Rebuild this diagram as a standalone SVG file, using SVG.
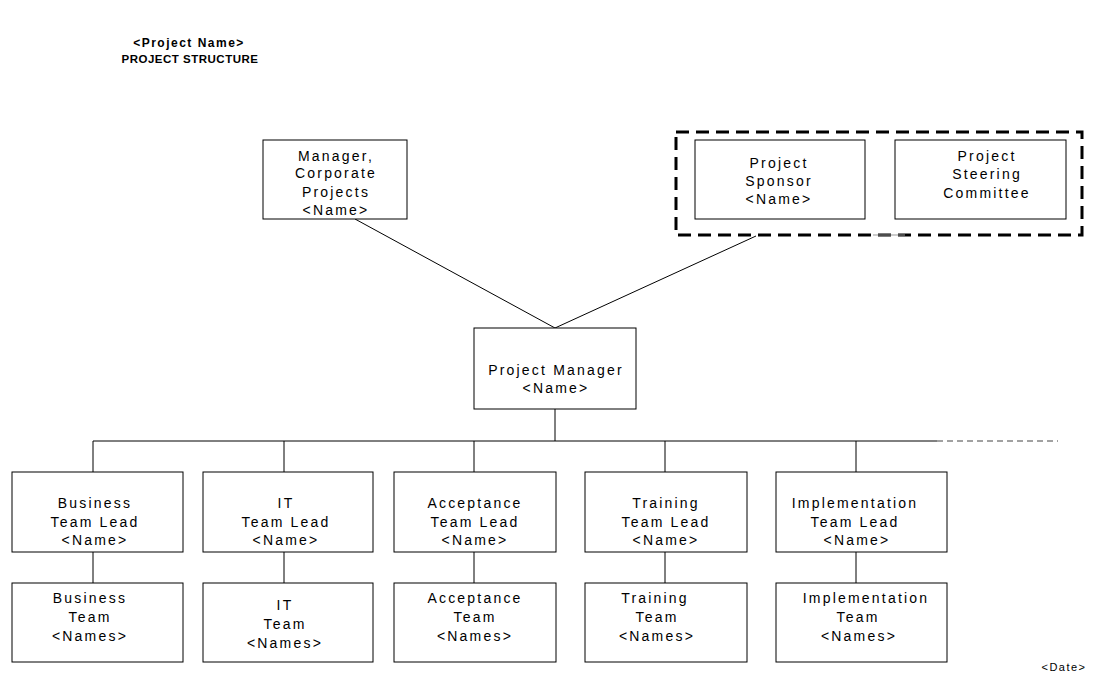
<svg xmlns="http://www.w3.org/2000/svg" width="1100" height="677" viewBox="0 0 1100 677">
<style>
.box{fill:#fff;stroke:#000;stroke-width:1}
.t{font-family:"Liberation Sans",Arial,sans-serif;font-size:14px;letter-spacing:2.2px;text-anchor:middle;fill:#000}
.title{font-family:"Liberation Sans",Arial,sans-serif;font-weight:bold;text-anchor:middle;fill:#000}
.ln{stroke:#000;stroke-width:1;fill:none}
.dash{stroke:#000;stroke-width:3;fill:none;stroke-dasharray:13 7}
.dln{stroke:#444;stroke-width:1;fill:none;stroke-dasharray:6 4}
</style>
<rect width="1100" height="677" fill="#fff"/>
<g id="title">
<text class="title" x="189" y="47" style="font-size:12px;letter-spacing:1.5px">&lt;Project Name&gt;</text>
<text class="title" x="190" y="63" style="font-size:11.5px;letter-spacing:0.5px">PROJECT STRUCTURE</text>
</g>
<g id="connectors">
<path class="ln" d="M355 219 L555 328"/>
<path class="ln" d="M756 236 L555 328"/>
<path class="ln" d="M555 409 V441"/>
<path class="ln" d="M93 441 H937"/>
<path class="dln" d="M937 441 H1058"/>
<path class="ln" d="M93 441 V472 M284 441 V472 M474 441 V472 M665 441 V472 M856 441 V472"/>
<path class="ln" d="M93 552 V583 M284 552 V583 M474 552 V583 M665 552 V583 M856 552 V583"/>
</g>
<g id="governance">
<rect class="dash" x="676" y="132" width="406" height="103"/>
<path d="M873 235 H905" stroke="#999" stroke-width="1"/>
</g>
<g id="manager-corporate">
<rect class="box" x="263" y="140" width="144" height="79"/>
<text class="t" x="336" y="161">Manager,</text>
<text class="t" x="336" y="178">Corporate</text>
<text class="t" x="336" y="197">Projects</text>
<text class="t" x="336" y="215">&lt;Name&gt;</text>
</g>
<g id="project-sponsor">
<rect class="box" x="695" y="140" width="170" height="79"/>
<text class="t" x="779" y="168">Project</text>
<text class="t" x="779" y="186">Sponsor</text>
<text class="t" x="779" y="204">&lt;Name&gt;</text>
</g>
<g id="steering-committee">
<rect class="box" x="895" y="140" width="171" height="79"/>
<text class="t" x="987" y="161">Project</text>
<text class="t" x="987" y="179">Steering</text>
<text class="t" x="987" y="198">Committee</text>
</g>
<g id="project-manager">
<rect class="box" x="474" y="328" width="162" height="81"/>
<text class="t" x="556" y="375">Project Manager</text>
<text class="t" x="556" y="393">&lt;Name&gt;</text>
</g>
<g id="business-lead">
<rect class="box" x="12" y="472" width="171" height="80"/>
<text class="t" x="95" y="508">Business</text>
<text class="t" x="95" y="527">Team Lead</text>
<text class="t" x="95" y="545">&lt;Name&gt;</text>
</g>
<g id="it-lead">
<rect class="box" x="203" y="472" width="170" height="80"/>
<text class="t" x="286" y="508">IT</text>
<text class="t" x="286" y="527">Team Lead</text>
<text class="t" x="286" y="545">&lt;Name&gt;</text>
</g>
<g id="acceptance-lead">
<rect class="box" x="394" y="472" width="162" height="80"/>
<text class="t" x="475" y="508">Acceptance</text>
<text class="t" x="475" y="527">Team Lead</text>
<text class="t" x="475" y="545">&lt;Name&gt;</text>
</g>
<g id="training-lead">
<rect class="box" x="585" y="472" width="162" height="80"/>
<text class="t" x="666" y="508">Training</text>
<text class="t" x="666" y="527">Team Lead</text>
<text class="t" x="666" y="545">&lt;Name&gt;</text>
</g>
<g id="implementation-lead">
<rect class="box" x="776" y="472" width="171" height="80"/>
<text class="t" x="855" y="508">Implementation</text>
<text class="t" x="855" y="527">Team Lead</text>
<text class="t" x="857" y="545">&lt;Name&gt;</text>
</g>
<g id="business-team">
<rect class="box" x="12" y="583" width="171" height="79"/>
<text class="t" x="90" y="603">Business</text>
<text class="t" x="90" y="622">Team</text>
<text class="t" x="90" y="641">&lt;Names&gt;</text>
</g>
<g id="it-team">
<rect class="box" x="203" y="583" width="170" height="79"/>
<text class="t" x="285" y="610">IT</text>
<text class="t" x="285" y="629">Team</text>
<text class="t" x="285" y="648">&lt;Names&gt;</text>
</g>
<g id="acceptance-team">
<rect class="box" x="394" y="583" width="162" height="79"/>
<text class="t" x="475" y="603">Acceptance</text>
<text class="t" x="475" y="622">Team</text>
<text class="t" x="475" y="641">&lt;Names&gt;</text>
</g>
<g id="training-team">
<rect class="box" x="585" y="583" width="162" height="79"/>
<text class="t" x="655" y="603">Training</text>
<text class="t" x="657" y="622">Team</text>
<text class="t" x="657" y="641">&lt;Names&gt;</text>
</g>
<g id="implementation-team">
<rect class="box" x="776" y="583" width="171" height="79"/>
<text class="t" x="866" y="603">Implementation</text>
<text class="t" x="858" y="622">Team</text>
<text class="t" x="859" y="641">&lt;Names&gt;</text>
</g>
<text class="t" x="1064" y="671" style="font-size:11px;letter-spacing:1.5px">&lt;Date&gt;</text>
</svg>
